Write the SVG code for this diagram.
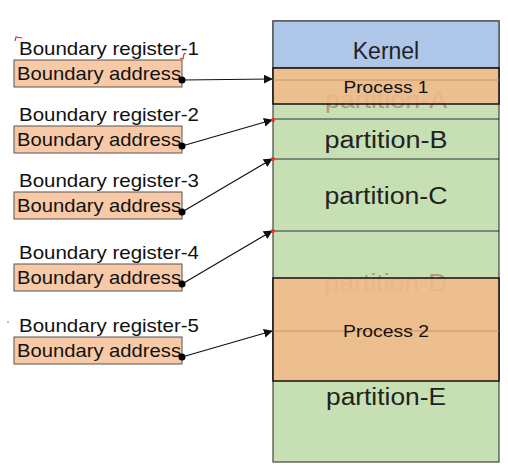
<svg xmlns="http://www.w3.org/2000/svg" width="508" height="470" viewBox="0 0 508 470">
<style>
text{font-family:"Liberation Sans",Arial,sans-serif;}
.lbl{font-size:18.5px;fill:#111;}
.addr{fill:#f8c9a6;stroke:#555;stroke-width:1;}
.big{font-size:23px;fill:#222;text-anchor:middle;}
.faded{font-size:23px;fill:#b5977a;text-anchor:middle;}
.proc{font-size:17px;fill:#111;text-anchor:middle;}
.conn{stroke:#111;stroke-width:1.2;fill:none;marker-end:url(#ah);}
.dot{fill:#000;}
.red{fill:#e8301c;}
.div{stroke:#333;stroke-width:1.2;}
</style>
<defs>
<marker id="ah" viewBox="0 0 10 10" refX="9" refY="5" markerWidth="9" markerHeight="9" markerUnits="userSpaceOnUse" orient="auto">
<path d="M0,0 L10,5 L0,10 z" fill="#111"/>
</marker>
</defs>
<rect width="508" height="470" fill="#fff"/>

<g id="memory">
<rect x="273" y="21" width="226" height="441" fill="#c6e0b4" stroke="#444" stroke-width="1.2"/>
<g id="kernel">
<rect x="273" y="21" width="226" height="47" fill="#aec6e8" stroke="#444" stroke-width="1.2"/>
<text class="big" x="386" y="59" font-size="24">Kernel</text>
</g>
<g id="partition-A">
<text class="faded" x="386" y="108" textLength="122" lengthAdjust="spacingAndGlyphs">partition-A</text>
</g>
<g id="process-1">
<rect x="273" y="68" width="226" height="36" fill="#f2b98a" fill-opacity="0.85" stroke="#111" stroke-width="1.5"/>
<line x1="273" y1="80" x2="499" y2="80" stroke="#c9895c" stroke-width="0.8"/>
<text class="proc" x="386" y="93" textLength="85" lengthAdjust="spacingAndGlyphs">Process 1</text>
</g>
<line class="div" x1="273" y1="119" x2="499" y2="119"/>
<g id="partition-B">
<text class="big" x="386" y="148" textLength="123" lengthAdjust="spacingAndGlyphs">partition-B</text>
</g>
<line class="div" x1="273" y1="159" x2="499" y2="159"/>
<g id="partition-C">
<text class="big" x="386" y="204" textLength="123" lengthAdjust="spacingAndGlyphs">partition-C</text>
</g>
<line class="div" x1="273" y1="231" x2="499" y2="231"/>
<g id="partition-D">
<text class="faded" x="386" y="291" textLength="123" lengthAdjust="spacingAndGlyphs">partition-D</text>
</g>
<g id="process-2">
<rect x="273" y="278" width="226" height="103" fill="#f2b98a" fill-opacity="0.88" stroke="#111" stroke-width="1.5"/>
<line x1="273" y1="331" x2="499" y2="331" stroke="#c9895c" stroke-width="0.8"/>
<text class="proc" x="386" y="337" textLength="86" lengthAdjust="spacingAndGlyphs">Process 2</text>
</g>
<g id="partition-E">
<text class="big" x="386" y="405" textLength="120" lengthAdjust="spacingAndGlyphs">partition-E</text>
</g>
</g>

<g id="reg1">
<text class="lbl" x="19" y="55" textLength="180" lengthAdjust="spacingAndGlyphs">Boundary register-1</text>
<rect class="addr" x="14" y="60" width="168" height="27"/>
<text class="lbl" x="17" y="80" textLength="164" lengthAdjust="spacingAndGlyphs">Boundary address</text>
</g>
<g id="reg2">
<text class="lbl" x="19" y="121" textLength="180" lengthAdjust="spacingAndGlyphs">Boundary register-2</text>
<rect class="addr" x="14" y="126" width="168" height="27"/>
<text class="lbl" x="17" y="146" textLength="164" lengthAdjust="spacingAndGlyphs">Boundary address</text>
</g>
<g id="reg3">
<text class="lbl" x="19" y="187" textLength="180" lengthAdjust="spacingAndGlyphs">Boundary register-3</text>
<rect class="addr" x="14" y="192" width="168" height="27"/>
<text class="lbl" x="17" y="212" textLength="164" lengthAdjust="spacingAndGlyphs">Boundary address</text>
</g>
<g id="reg4">
<text class="lbl" x="19" y="259" textLength="180" lengthAdjust="spacingAndGlyphs">Boundary register-4</text>
<rect class="addr" x="14" y="264" width="168" height="27"/>
<text class="lbl" x="17" y="284" textLength="164" lengthAdjust="spacingAndGlyphs">Boundary address</text>
</g>
<g id="reg5">
<text class="lbl" x="19" y="332" textLength="180" lengthAdjust="spacingAndGlyphs">Boundary register-5</text>
<rect class="addr" x="14" y="337" width="168" height="27"/>
<text class="lbl" x="17" y="357" textLength="164" lengthAdjust="spacingAndGlyphs">Boundary address</text>
</g>

<g id="connectors">
<line class="conn" x1="182" y1="80" x2="272" y2="79"/>
<line class="conn" x1="182" y1="146" x2="272" y2="120"/>
<line class="conn" x1="182" y1="212" x2="272" y2="159"/>
<line class="conn" x1="182" y1="284" x2="272" y2="231"/>
<line class="conn" x1="182" y1="357" x2="272" y2="331"/>
<circle class="dot" cx="182" cy="80" r="3.5"/>
<circle class="dot" cx="182" cy="146" r="3.5"/>
<circle class="dot" cx="182" cy="212" r="3.5"/>
<circle class="dot" cx="182" cy="284" r="3.5"/>
<circle class="dot" cx="182" cy="357" r="3.5"/>
<circle class="red" cx="273" cy="120" r="2"/>
<circle class="red" cx="273" cy="159" r="2"/>
<circle class="red" cx="273" cy="231" r="2"/>
</g>

<g id="marks" stroke="#e8301c" stroke-width="1.2" fill="none">
<path d="M15,41 L16,37 L22,38"/>
<path d="M180,58 L183,59 L184,54 L186,53"/>
<circle cx="8" cy="322" r="0.8" fill="#e8301c" stroke="none"/>
</g>
</svg>
